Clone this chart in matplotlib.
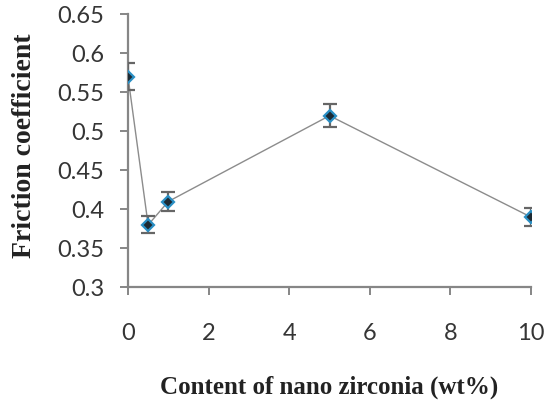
import matplotlib
matplotlib.use("Agg")
import matplotlib.pyplot as plt

# Friction coefficient vs. nano zirconia content
zirconia_wt = [0, 0.5, 1, 5, 10]
friction = [0.57, 0.38, 0.41, 0.52, 0.39]
friction_err = [0.017, 0.011, 0.012, 0.015, 0.012]

x_ticks = [0, 2, 4, 6, 8, 10]
y_ticks = [0.3, 0.35, 0.4, 0.45, 0.5, 0.55, 0.6, 0.65]
y_ticklabels = ["0.3", "0.35", "0.4", "0.45", "0.5", "0.55", "0.6", "0.65"]

fig = plt.figure(figsize=(5.55, 4.05), dpi=100)
ax = fig.add_axes([0.2306, 0.2906, 0.7262, 0.6741])

axis_grey = "#868686"
ax.plot(zirconia_wt, friction, color="#8c8c8c", lw=1.0, zorder=2)
ax.errorbar(zirconia_wt, friction, yerr=friction_err, fmt="none",
            ecolor="#666666", elinewidth=1.6, capsize=5, capthick=1.6, zorder=3)
ax.plot(zirconia_wt, friction, linestyle="none", marker="D", markersize=6.5,
        markerfacecolor="#1d2a33", markeredgecolor="#2a8fc4", markeredgewidth=1.6,
        zorder=4)

ax.set_xlim(0, 10)
ax.set_ylim(0.3, 0.65)
ax.set_xticks(x_ticks)
ax.set_yticks(y_ticks)
ax.set_yticklabels(y_ticklabels)

for side in ("top", "right"):
    ax.spines[side].set_visible(False)
for side in ("left", "bottom"):
    ax.spines[side].set_color(axis_grey)
    ax.spines[side].set_linewidth(1.6)

ax.tick_params(axis="both", direction="out", color=axis_grey, width=1.4,
               length=6, labelsize=17, labelcolor="#353535")
ax.tick_params(axis="x", pad=19.5)
ax.tick_params(axis="y", pad=11)
for lbl in ax.get_xticklabels() + ax.get_yticklabels():
    lbl.set_fontfamily("Lato")

ax.set_xlabel("Content of nano zirconia (wt%)", fontfamily="Liberation Serif",
              fontweight="bold", fontsize=18, color="#222222")
ax.set_ylabel("Friction coefficient", fontfamily="Liberation Serif",
              fontweight="bold", fontsize=20, color="#222222")
ax.xaxis.set_label_coords(0.5, -0.325)
ax.yaxis.set_label_coords(-0.225, 0.518)

fig.savefig("out.png", dpi=100)
